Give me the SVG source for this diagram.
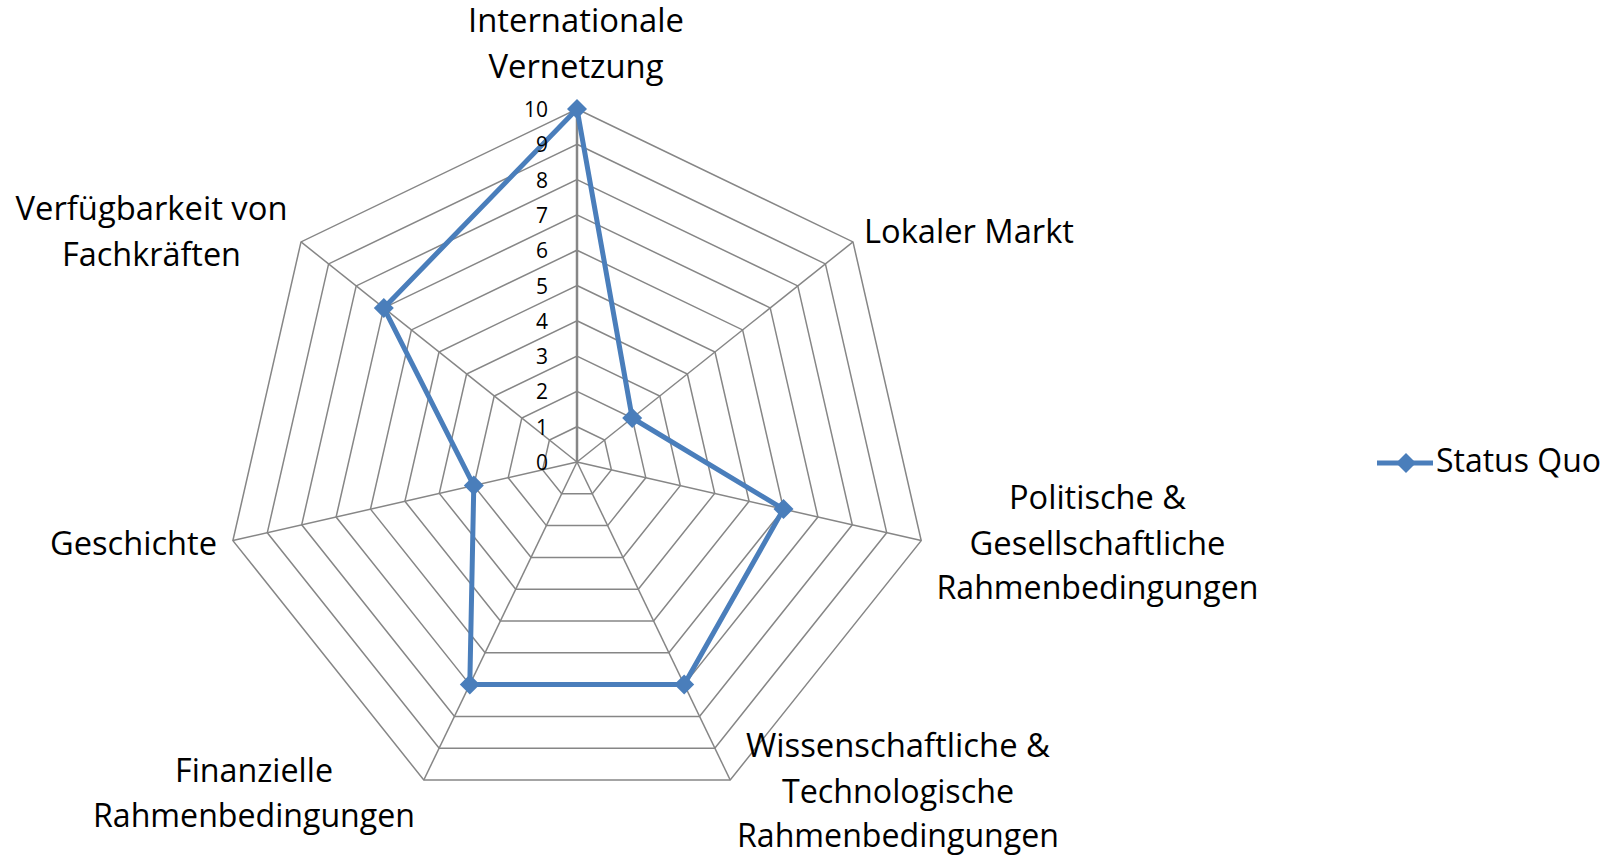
<svg xmlns="http://www.w3.org/2000/svg" xmlns:xlink="http://www.w3.org/1999/xlink" width="1620" height="858" viewBox="0 0 1620 858">
<style>
.ring{fill:none;stroke:#868686;stroke-width:1.5;stroke-linejoin:miter}
.spoke{stroke:#868686;stroke-width:1.5}
.vaxis{stroke:#868686;stroke-width:2.5}
.series{fill:none;stroke:#4A7EBB;stroke-width:5;stroke-linejoin:round}
.mk{fill:#4A7EBB}
.lbl{font-family:"Open Sans","Liberation Sans",sans-serif;font-size:33px;fill:#000}
.tick{font-family:"Open Sans","Liberation Sans",sans-serif;font-size:21px;fill:#000;text-anchor:end}
</style>
<defs>
<path id="dm" d="M0,-10 L10,0 L0,10 L-10,0Z"/>
</defs>
<rect width="1620" height="858" fill="#fff"/>
<g id="grid">
<polygon class="ring" points="577,426.7 604.6,440.0 611.4,469.9 592.3,493.8 561.7,493.8 542.6,469.9 549.4,440.0"/>
<polygon class="ring" points="577,391.4 632.2,418.0 645.8,477.7 607.6,525.6 546.4,525.6 508.2,477.7 521.8,418.0"/>
<polygon class="ring" points="577,356.1 659.8,396.0 680.3,485.6 623.0,557.4 531.1,557.4 473.8,485.6 494.2,396.0"/>
<polygon class="ring" points="577,320.8 687.4,374.0 714.7,493.4 638.3,589.2 515.7,589.2 439.3,493.4 466.6,374.0"/>
<polygon class="ring" points="577,285.5 715.0,352.0 749.1,501.3 653.6,621.0 500.4,621.0 404.9,501.3 439.0,352.0"/>
<polygon class="ring" points="577,250.2 742.6,329.9 783.5,509.1 668.9,652.8 485.1,652.8 370.5,509.1 411.4,329.9"/>
<polygon class="ring" points="577,214.9 770.2,307.9 817.9,517.0 684.2,684.6 469.8,684.6 336.1,517.0 383.8,307.9"/>
<polygon class="ring" points="577,179.6 797.8,285.9 852.3,524.8 699.5,716.4 454.5,716.4 301.7,524.8 356.2,285.9"/>
<polygon class="ring" points="577,144.3 825.4,263.9 886.7,532.7 714.8,748.2 439.2,748.2 267.3,532.7 328.6,263.9"/>
<polygon class="ring" points="577,109.0 853.0,241.9 921.2,540.6 730.2,780.0 423.8,780.0 232.9,540.6 301.0,241.9"/>
<line class="spoke" x1="577" y1="462" x2="853.0" y2="241.9"/>
<line class="spoke" x1="577" y1="462" x2="921.2" y2="540.6"/>
<line class="spoke" x1="577" y1="462" x2="730.2" y2="780.0"/>
<line class="spoke" x1="577" y1="462" x2="423.8" y2="780.0"/>
<line class="spoke" x1="577" y1="462" x2="232.9" y2="540.6"/>
<line class="spoke" x1="577" y1="462" x2="301.0" y2="241.9"/>
<line class="vaxis" x1="577" y1="462" x2="577" y2="109.0"/>
</g>
<g id="series-status-quo">
<polygon class="series" points="577,109.0 632.2,418.0 783.5,509.1 684.2,684.6 469.8,684.6 473.8,485.6 383.8,307.9"/>
<use xlink:href="#dm" class="mk" x="577" y="109.0"/>
<use xlink:href="#dm" class="mk" x="632.2" y="418.0"/>
<use xlink:href="#dm" class="mk" x="783.5" y="509.1"/>
<use xlink:href="#dm" class="mk" x="684.2" y="684.6"/>
<use xlink:href="#dm" class="mk" x="469.8" y="684.6"/>
<use xlink:href="#dm" class="mk" x="473.8" y="485.6"/>
<use xlink:href="#dm" class="mk" x="383.8" y="307.9"/>
</g>
<g id="ticks">
<text class="tick" x="548" y="470">0</text>
<text class="tick" x="548" y="434.7">1</text>
<text class="tick" x="548" y="399.4">2</text>
<text class="tick" x="548" y="364.1">3</text>
<text class="tick" x="548" y="328.8">4</text>
<text class="tick" x="548" y="293.5">5</text>
<text class="tick" x="548" y="258.2">6</text>
<text class="tick" x="548" y="222.9">7</text>
<text class="tick" x="548" y="187.6">8</text>
<text class="tick" x="548" y="152.3">9</text>
<text class="tick" x="548" y="116.5">10</text>
</g>
<g id="label-internationale">
<text class="lbl" x="576" y="32" text-anchor="middle" textLength="216" lengthAdjust="spacingAndGlyphs">Internationale</text>
<text class="lbl" x="576" y="78" text-anchor="middle" textLength="175" lengthAdjust="spacingAndGlyphs">Vernetzung</text>
</g>
<g id="label-lokaler">
<text class="lbl" x="864" y="243" textLength="210" lengthAdjust="spacingAndGlyphs">Lokaler Markt</text>
</g>
<g id="label-politische">
<text class="lbl" x="1097.5" y="509" text-anchor="middle" textLength="177" lengthAdjust="spacingAndGlyphs">Politische &amp;</text>
<text class="lbl" x="1097.5" y="554.5" text-anchor="middle" textLength="256" lengthAdjust="spacingAndGlyphs">Gesellschaftliche</text>
<text class="lbl" x="1097.5" y="599" text-anchor="middle" textLength="322" lengthAdjust="spacingAndGlyphs">Rahmenbedingungen</text>
</g>
<g id="label-wissenschaftliche">
<text class="lbl" x="898" y="757" text-anchor="middle" textLength="304" lengthAdjust="spacingAndGlyphs">Wissenschaftliche &amp;</text>
<text class="lbl" x="898" y="803" text-anchor="middle" textLength="232" lengthAdjust="spacingAndGlyphs">Technologische</text>
<text class="lbl" x="898" y="847" text-anchor="middle" textLength="322" lengthAdjust="spacingAndGlyphs">Rahmenbedingungen</text>
</g>
<g id="label-finanzielle">
<text class="lbl" x="254" y="782" text-anchor="middle" textLength="158" lengthAdjust="spacingAndGlyphs">Finanzielle</text>
<text class="lbl" x="254" y="826.5" text-anchor="middle" textLength="322" lengthAdjust="spacingAndGlyphs">Rahmenbedingungen</text>
</g>
<g id="label-geschichte">
<text class="lbl" x="217" y="554.5" text-anchor="end" textLength="167" lengthAdjust="spacingAndGlyphs">Geschichte</text>
</g>
<g id="label-verfuegbarkeit">
<text class="lbl" x="151.5" y="220" text-anchor="middle" textLength="272" lengthAdjust="spacingAndGlyphs">Verfügbarkeit von</text>
<text class="lbl" x="151.5" y="265.5" text-anchor="middle" textLength="179" lengthAdjust="spacingAndGlyphs">Fachkräften</text>
</g>
<g id="legend">
<line x1="1377" y1="463" x2="1433" y2="463" stroke="#4A7EBB" stroke-width="5"/>
<use xlink:href="#dm" class="mk" x="1406" y="463"/>
<text class="lbl" x="1436" y="472" textLength="165" lengthAdjust="spacingAndGlyphs">Status Quo</text>
</g>
</svg>
